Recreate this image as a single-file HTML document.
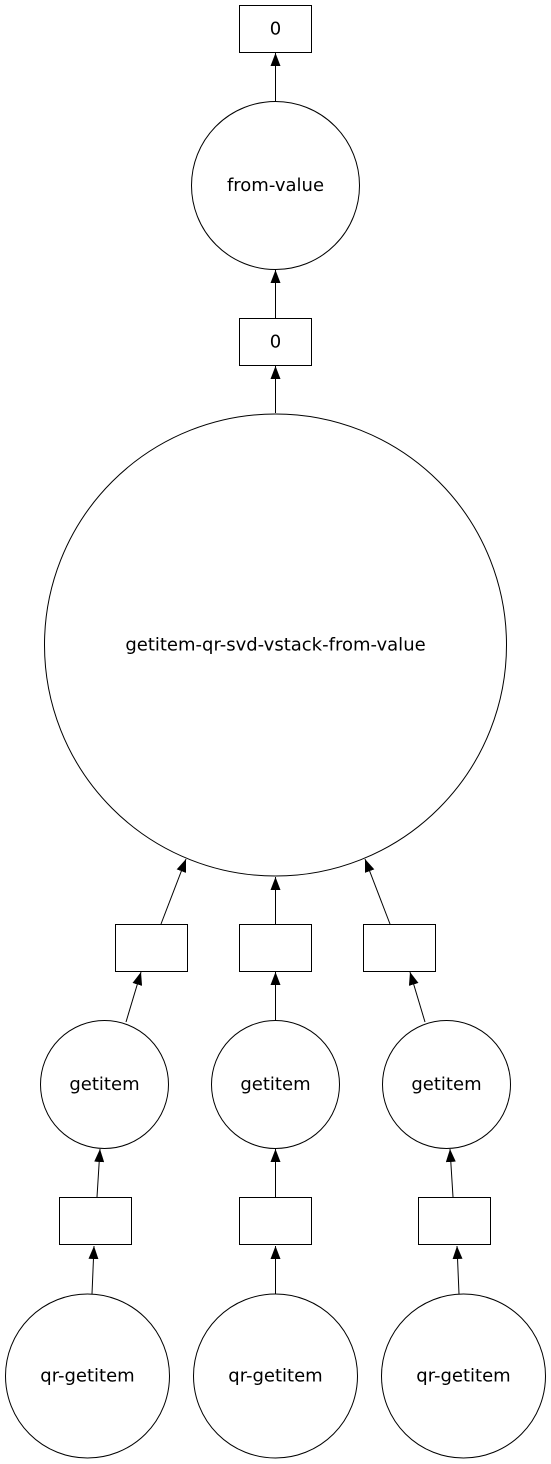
<!DOCTYPE html>
<html><head><meta charset="utf-8"><style>
html,body{margin:0;padding:0;background:#fff;}
svg{display:block;}
text{font-family:"DejaVu Sans",Verdana,sans-serif;font-size:18px;fill:#000;text-anchor:middle;dominant-baseline:central;}
</style></head><body>
<svg width="551" height="1464" viewBox="0 0 551 1464" xmlns="http://www.w3.org/2000/svg">
<defs>
<marker id="a" markerWidth="13" markerHeight="10" refX="13" refY="5" orient="auto" markerUnits="userSpaceOnUse">
<path d="M0,0 L13,5 L0,10 Z" fill="#000"/>
</marker>
</defs>
<g fill="none" stroke="#000" stroke-width="1">
<rect x="239.5" y="5.5" width="72" height="47"/>
<circle cx="275.5" cy="185.5" r="84"/>
<rect x="239.5" y="318.5" width="72" height="47"/>
<circle cx="275.5" cy="645" r="231"/>
<rect x="115.5" y="924.5" width="72" height="47"/>
<rect x="239.5" y="924.5" width="72" height="47"/>
<rect x="363.5" y="924.5" width="72" height="47"/>
<circle cx="104.5" cy="1084.5" r="64"/>
<circle cx="275.5" cy="1084.5" r="64"/>
<circle cx="446.5" cy="1084.5" r="64"/>
<rect x="59.5" y="1197.5" width="72" height="47"/>
<rect x="239.5" y="1197.5" width="72" height="47"/>
<rect x="418.5" y="1197.5" width="72" height="47"/>
<circle cx="87.5" cy="1376" r="82"/>
<circle cx="275.5" cy="1376" r="82"/>
<circle cx="463.5" cy="1376" r="82"/>

<line x1="275.5" y1="101" x2="275.5" y2="53" marker-end="url(#a)"/>
<line x1="275.5" y1="318" x2="275.5" y2="270" marker-end="url(#a)"/>
<line x1="275.5" y1="413" x2="275.5" y2="366" marker-end="url(#a)"/>
<line x1="161" y1="924" x2="186" y2="859" marker-end="url(#a)"/>
<line x1="275.5" y1="924" x2="275.5" y2="877" marker-end="url(#a)"/>
<line x1="390" y1="924" x2="365" y2="859" marker-end="url(#a)"/>
<line x1="126" y1="1022" x2="141" y2="972" marker-end="url(#a)"/>
<line x1="275.5" y1="1020" x2="275.5" y2="972" marker-end="url(#a)"/>
<line x1="425" y1="1022" x2="410" y2="972" marker-end="url(#a)"/>
<line x1="97" y1="1197" x2="100" y2="1149" marker-end="url(#a)"/>
<line x1="275.5" y1="1197" x2="275.5" y2="1149" marker-end="url(#a)"/>
<line x1="453" y1="1197" x2="450" y2="1149" marker-end="url(#a)"/>
<line x1="92" y1="1294" x2="94" y2="1246" marker-end="url(#a)"/>
<line x1="275.5" y1="1294" x2="275.5" y2="1246" marker-end="url(#a)"/>
<line x1="459" y1="1294" x2="457" y2="1246" marker-end="url(#a)"/>
</g>
<text x="275.5" y="29">0</text>
<text x="275.5" y="185.5">from-value</text>
<text x="275.5" y="342">0</text>
<text x="275.5" y="645">getitem-qr-svd-vstack-from-value</text>
<text x="104.5" y="1084.5">getitem</text>
<text x="275.5" y="1084.5">getitem</text>
<text x="446.5" y="1084.5">getitem</text>
<text x="87.5" y="1376">qr-getitem</text>
<text x="275.5" y="1376">qr-getitem</text>
<text x="463.5" y="1376">qr-getitem</text>
</svg>
</body></html>
